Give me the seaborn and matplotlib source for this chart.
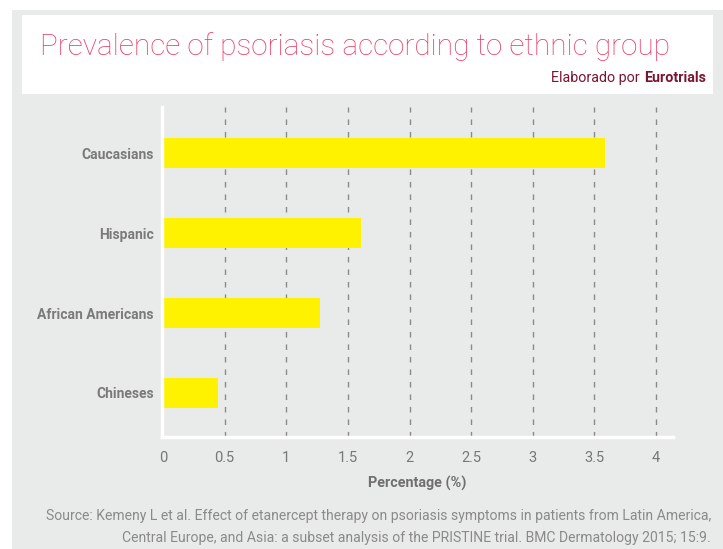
import matplotlib
matplotlib.use("Agg")
import matplotlib.pyplot as plt
import seaborn as sns
import pandas as pd
from matplotlib.patches import Rectangle

groups = ["Caucasians", "Hispanic", "African Americans", "Chineses"]
values = [3.59, 1.61, 1.27, 0.45]
xticks = [0, 0.5, 1, 1.5, 2, 2.5, 3, 3.5, 4]
xticklabels = ["0", "0.5", "1", "1.5", "2", "2.5", "3", "3.5", "4"]

df = pd.DataFrame({"group": groups, "value": values})

sns.set_style("white")
plt.rcParams["font.family"] = ["Roboto", "DejaVu Sans"]

W, H = 723, 549
fig = plt.figure(figsize=(W / 100, H / 100), dpi=100)
fig.patch.set_facecolor("white")

bg = "#e9eaea"
# gray panel
fig.patches.append(Rectangle((12 / W, 0), 1 - 12 / W, 1 - 10 / H, transform=fig.transFigure,
                             facecolor=bg, edgecolor="none", zorder=0))
# white header box
fig.patches.append(Rectangle((22 / W, 1 - 94 / H), (713 - 22) / W, (94 - 15) / H,
                             transform=fig.transFigure, facecolor="white", edgecolor="none", zorder=1))

fig.text(40 / W, 1 - 55 / H, "Prevalence of psoriasis according to ethnic group",
         fontsize=21.4, color="#ec3a63", fontweight="light", zorder=3)
fig.text(640 / W, 1 - 82 / H, "Elaborado por", fontsize=10.3, color="#7a1530",
         fontweight="normal", ha="right", zorder=3)
fig.text(706 / W, 1 - 82 / H, "Eurotrials", fontsize=10.3, color="#7a1530",
         fontweight="bold", ha="right", zorder=3)

left, right = 162 / W, 673 / W
bottom, top = 1 - 437 / H, 1 - 107 / H
ax = fig.add_axes([left, bottom, right - left, top - bottom])
ax.set_facecolor("none")
ax.set_zorder(5)

sns.barplot(data=df, x="value", y="group", orient="h", color="#fff200",
            saturation=1, width=0.375, linewidth=0, ax=ax, zorder=3)

xmax = 4 + (673 - 656) / 123.25
ax.set_xlim(-1 / 123.25, xmax)
ax.set_ylim(3.55, -0.575)

ax.set_xticks(xticks)
ax.set_xticklabels(xticklabels)
for xv in xticks[1:]:
    ax.axvline(xv, color="#8a8a8a", linestyle=(0, (4, 5)), linewidth=1, zorder=1)

for s in ["top", "right"]:
    ax.spines[s].set_visible(False)
ax.spines["left"].set_color("white")
ax.spines["left"].set_linewidth(2.5)
ax.spines["bottom"].set_color("white")
ax.spines["bottom"].set_linewidth(2.5)
ax.spines["left"].set_zorder(4)

ax.tick_params(axis="both", length=0, colors="#777777")
ax.tick_params(axis="x", labelsize=10.5, pad=10)
ax.tick_params(axis="y", labelsize=10, pad=6)
for lab in ax.get_yticklabels():
    lab.set_fontweight("bold")
    lab.set_color("#7a7a7a")
for lab in ax.get_xticklabels():
    lab.set_color("#777777")

ax.set_ylabel("")
ax.set_xlabel("Percentage (%)", fontsize=10.4, color="#6f6f6f", fontweight="bold", labelpad=8)

fig.text(711 / W, 1 - 520 / H,
         "Source: Kemeny L et al. Effect of etanercept therapy on psoriasis symptoms in patients from Latin America,",
         ha="right", fontsize=10.1, color="#8a8a8a", fontweight="normal")
fig.text(711 / W, 1 - 542 / H,
         "Central Europe, and Asia: a subset analysis of the PRISTINE trial. BMC Dermatology 2015; 15:9.",
         ha="right", fontsize=10.1, color="#8a8a8a", fontweight="normal")

fig.savefig("out.png", dpi=100, facecolor=fig.get_facecolor())
